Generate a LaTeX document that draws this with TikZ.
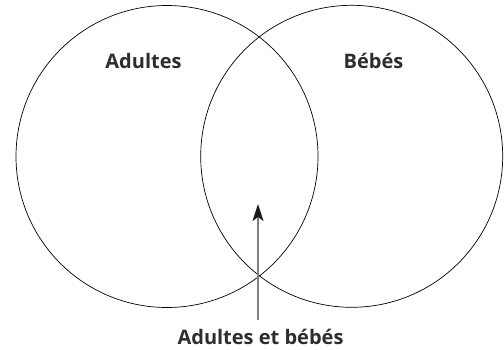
\documentclass[tikz,border=0pt]{standalone}
\usepackage{fontspec}
\setmainfont{Open Sans}
\usetikzlibrary{arrows.meta}
\begin{document}
\begin{tikzpicture}[x=1pt,y=-1pt,
  setcircle/.style={circle,draw=black,line width=0.7pt,minimum size=302pt,inner sep=0pt},
  lbl/.style={font=\fontsize{20}{22}\selectfont\bfseries,text=black!82,inner sep=0pt},
  pointer/.style={draw=black!50,line width=1.2pt,-{Stealth[length=17pt,width=11pt,inset=4pt,color=black!90]}}]
\useasboundingbox (0,0) rectangle (504,349);
\node[setcircle] (A) at (167,156.5) {};
\node[setcircle] (B) at (351.7,156.3) {};
\node[lbl] (la) at (143.5,61) {Adultes};
\node[lbl] (lb) at (373.5,61) {Bébés};
\node[lbl] (lab) at (260.5,337) {Adultes et bébés};
\coordinate (astart) at (258,320);
\coordinate (tip) at (258,204);
\draw[pointer] (astart) -- (tip);
\end{tikzpicture}
\end{document}
